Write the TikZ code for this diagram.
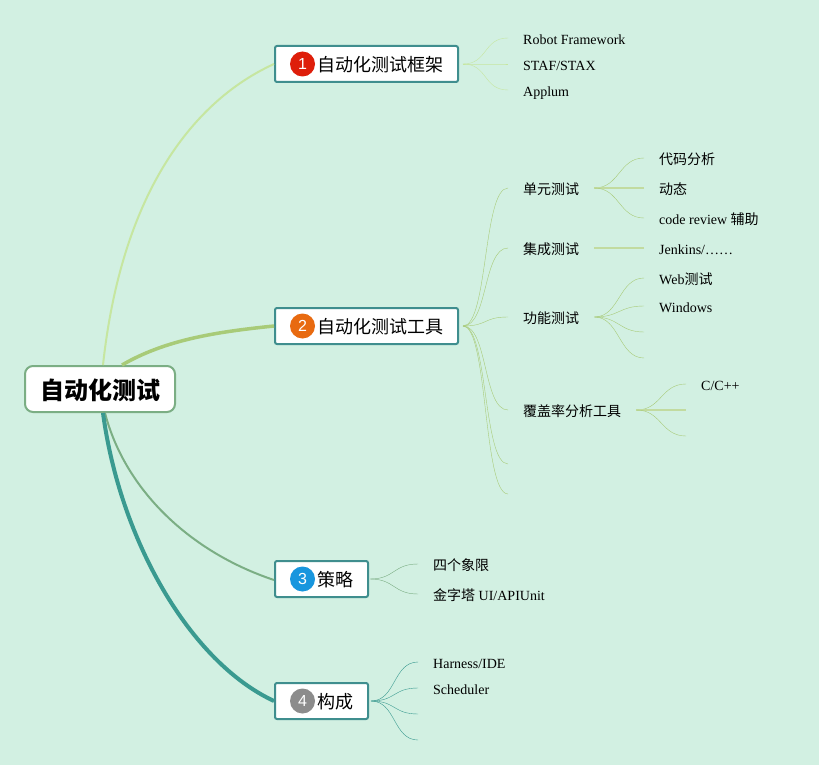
\documentclass[tikz,border=0pt]{standalone}
\usepackage{fontspec}
\setmainfont{Liberation Serif}
\setsansfont{Liberation Sans}
\newfontfamily\cjk{Noto Sans CJK SC}
\usetikzlibrary{calc}
\definecolor{paper}{HTML}{D2F0E2}
\definecolor{boxteal}{HTML}{3F8E8E}
\definecolor{oneline}{HTML}{C6E6A0}
\definecolor{twoline}{HTML}{A8CB78}
\definecolor{threeline}{HTML}{7BAE84}
\definecolor{fourline}{HTML}{3A9A90}
\tikzset{
	leaf/.style={inner sep=0, anchor=west, text height=15pt, text depth=2pt, font=\fontsize{14}{16}\selectfont},
	branchbox/.style={draw=boxteal, fill=white, line width=2pt, rounded corners=2pt, minimum height=36pt, inner sep=0},
	badge/.style={circle, minimum size=25pt, inner sep=0, text=white, font=\sffamily\fontsize{16}{16}\selectfont},
	branchtext/.style={inner sep=0, anchor=west, font=\cjk\fontsize{18}{20}\selectfont},
	link/.style={out=0, in=180, distance=25pt, line width=1pt},
}
\begin{document}
\begin{tikzpicture}[x=1pt, y=-1pt]
	\useasboundingbox (0, 0) rectangle (819, 765);
	\fill[paper] (0, 0) rectangle (819, 765);
	
	% centre and the four boxes
	\node[draw=threeline, fill=white, line width=2pt, rounded corners=8pt, minimum width=150pt, minimum height=46pt, inner sep=0, text height=24pt, text depth=3pt, font=\cjk\bfseries\fontsize{24}{26}\selectfont] (root) at (100, 389) {自动化测试};
	
	\node[branchbox, minimum width=183pt] (b1) at (366.5, 64) {};
	\node[badge, fill={rgb,255:red,222;green,30;blue,10}] (n1) at (302.5, 64) {1};
	\node[branchtext] (t1) at (317.5, 65) {自动化测试框架};
	
	\node[branchbox, minimum width=183pt] (b2) at (366.5, 326) {};
	\node[badge, fill={rgb,255:red,232;green,106;blue,16}] (n2) at (302.5, 326) {2};
	\node[branchtext] (t2) at (317.5, 327) {自动化测试工具};
	
	\node[branchbox, minimum width=93pt] (b3) at (321.5, 579) {};
	\node[badge, fill={rgb,255:red,24;green,150;blue,222}] (n3) at (302.5, 579) {3};
	\node[branchtext] (t3) at (317.5, 580) {策略};
	
	\node[branchbox, minimum width=93pt] (b4) at (321.5, 701) {};
	\node[badge, fill=black!45] (n4) at (302.5, 701) {4};
	\node[branchtext] (t4) at (317.5, 702) {构成};
	
	% leaves
	\node[leaf] (r1) at (523, 38) {Robot Framework};
	\node[leaf] (r2) at (523, 64) {STAF/STAX};
	\node[leaf] (r3) at (523, 90) {Applum};
	
	\node[leaf] (u) at (523, 188) {\cjk 单元测试};
	\node[leaf] (i) at (523, 248) {\cjk 集成测试};
	\node[leaf] (f) at (523, 317) {\cjk 功能测试};
	\node[leaf] (c) at (523, 410) {\cjk 覆盖率分析工具};
	\coordinate (e1) at (508, 464);
	\coordinate (e2) at (508, 494);
	
	\node[leaf] (u1) at (659, 158) {\cjk 代码分析};
	\node[leaf] (u2) at (659, 188) {\cjk 动态};
	\node[leaf] (u3) at (659, 218) {code review {\cjk 辅助}};
	\node[leaf] (i1) at (659, 248) {Jenkins/……};
	\node[leaf] (f1) at (659, 278) {Web{\cjk 测试}};
	\node[leaf] (f2) at (659, 306) {Windows};
	\coordinate (f3) at (644, 332);
	\coordinate (f4) at (644, 358);
	\node[leaf] (c1) at (701, 384) {C/C++};
	\coordinate (c2) at (686, 410);
	\coordinate (c3) at (686, 436);
	
	\node[leaf] (s1) at (433, 564) {\cjk 四个象限};
	\node[leaf] (s2) at (433, 594) {{\cjk 金字塔} UI/APIUnit};
	
	\node[leaf] (m1) at (433, 662) {Harness/IDE};
	\node[leaf] (m2) at (433, 688) {Scheduler};
	\coordinate (m3) at (418, 714);
	\coordinate (m4) at (418, 740);
	
	% thick curves out of the centre
	\draw[oneline, line width=2pt] ([xshift=3pt]root.north) .. controls (122, 190) and (195, 100) .. (b1.west);
	\draw[twoline, line width=3.5pt] ([xshift=22pt]root.north) .. controls (165, 340) and (215, 332) .. (b2.west);
	\draw[threeline, line width=2pt] ([xshift=5pt]root.south) .. controls (125, 490) and (190, 552) .. ([yshift=-1pt]b3.west);
	\draw[fourline, line width=4pt] ([xshift=3pt]root.south) .. controls (120, 540) and (190, 662) .. (b4.west);
	
	% thin curves
	\draw[oneline] ([xshift=4pt]b1.east) to[link] ([xshift=-15pt]r1.west);
	\draw[oneline] ([xshift=4pt]b1.east) to[link] ([xshift=-15pt]r2.west);
	\draw[oneline] ([xshift=4pt]b1.east) to[link] ([xshift=-15pt]r3.west);
	
	\draw[twoline] ([xshift=4pt]b2.east) to[link] ([xshift=-15pt]u.west);
	\draw[twoline] ([xshift=4pt]b2.east) to[link] ([xshift=-15pt]i.west);
	\draw[twoline] ([xshift=4pt]b2.east) to[link] ([xshift=-15pt]f.west);
	\draw[twoline] ([xshift=4pt]b2.east) to[link] ([xshift=-15pt]c.west);
	\draw[twoline] ([xshift=4pt]b2.east) to[link] (e1);
	\draw[twoline] ([xshift=4pt]b2.east) to[link] (e2);
	
	\draw[twoline] ([xshift=15pt]u.east) to[link] ([xshift=-15pt]u1.west);
	\draw[twoline!70, line width=1.5pt] ([xshift=15pt]u.east) -- ([xshift=-15pt]u2.west);
	\draw[twoline] ([xshift=15pt]u.east) to[link] ([xshift=-15pt]u3.west);
	\draw[twoline!70, line width=1.5pt] ([xshift=15pt]i.east) -- ([xshift=-15pt]i1.west);
	
	\draw[twoline] ([xshift=15pt]f.east) to[link] ([xshift=-15pt]f1.west);
	\draw[twoline] ([xshift=15pt]f.east) to[link] ([xshift=-15pt]f2.west);
	\draw[twoline] ([xshift=15pt]f.east) to[link] (f3);
	\draw[twoline] ([xshift=15pt]f.east) to[link] (f4);
	
	\draw[twoline] ([xshift=15pt]c.east) to[link] ([xshift=-15pt]c1.west);
	\draw[twoline!70, line width=1.5pt] ([xshift=15pt]c.east) -- (c2);
	\draw[twoline] ([xshift=15pt]c.east) to[link] (c3);
	
	\draw[threeline] ([xshift=1pt]b3.east) to[link] ([xshift=-15pt]s1.west);
	\draw[threeline] ([xshift=1pt]b3.east) to[link] ([xshift=-15pt]s2.west);
	
	\draw[fourline] ([xshift=2pt]b4.east) to[link] ([xshift=-15pt]m1.west);
	\draw[fourline] ([xshift=2pt]b4.east) to[link] ([xshift=-15pt]m2.west);
	\draw[fourline] ([xshift=2pt]b4.east) to[link] (m3);
	\draw[fourline] ([xshift=2pt]b4.east) to[link] (m4);
\end{tikzpicture}
\end{document}
